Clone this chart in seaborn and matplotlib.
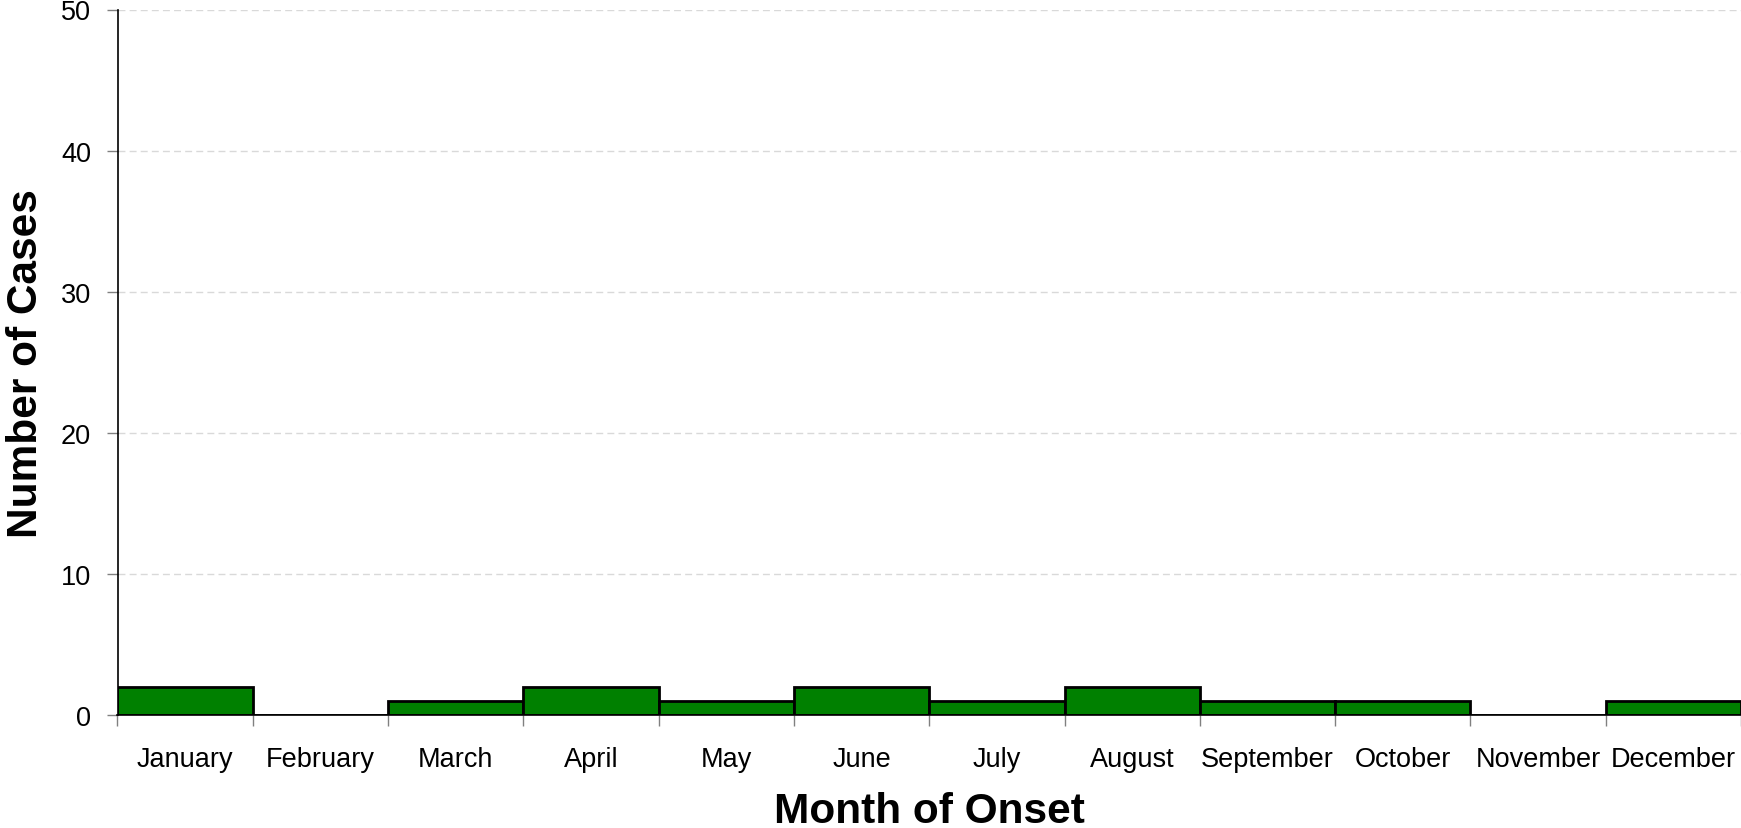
import numpy as np
import pandas as pd
import matplotlib
matplotlib.use("Agg")
import matplotlib.pyplot as plt
import seaborn as sns

months = ["January", "February", "March", "April", "May", "June",
          "July", "August", "September", "October", "November", "December"]
cases = [2, 0, 1, 2, 1, 2, 1, 2, 1, 1, 0, 1]

df = pd.DataFrame({"Month": months, "Cases": cases})

sns.set_style("white", {"xtick.bottom": True, "ytick.left": True,
                        "text.color": "black", "axes.labelcolor": "black",
                        "xtick.color": "black", "ytick.color": "black"})
plt.rcParams['font.family'] = ['Liberation Sans', 'DejaVu Sans']

fig = plt.figure(figsize=(17.41, 8.29), dpi=100)
ax = fig.add_axes([117.5 / 1741, 1 - 716 / 829, (1741 - 117.5) / 1741, (716 - 10.5) / 829])

sns.barplot(data=df, x="Month", y="Cases", order=months, color="#008000",
            width=1.0, edgecolor="black", linewidth=2, saturation=1, ax=ax)

ax.set_xlim(-0.5, 11.5)
ax.set_ylim(0, 50)
ax.set_yticks(range(0, 51, 10))
ax.yaxis.grid(True, linestyle=(0, (5, 3)), color="#d9d9d9", linewidth=1)
ax.set_axisbelow(True)

# month labels sit between the ticks
ax.set_xticks(range(12))
ax.set_xticklabels(months)
ax.set_xticks(np.arange(-0.5, 12, 1), minor=True)
ax.tick_params(axis="x", which="major", length=0, labelsize=19.5, labelcolor="black", pad=22)
ax.tick_params(axis="x", which="minor", length=8, width=1, color="#808080", direction="out")
ax.tick_params(axis="y", length=8, width=1, color="#808080", direction="out",
               labelsize=19.5, labelcolor="black", pad=11)

for s in ["top", "right"]:
    ax.spines[s].set_visible(False)
ax.spines["left"].set_color("black")
ax.spines["bottom"].set_color("black")
ax.spines["left"].set_linewidth(1.2)
ax.spines["bottom"].set_linewidth(1.2)

ax.set_xlabel("Month of Onset", fontsize=30.5, fontweight="bold", color="black", labelpad=14)
ax.set_ylabel("Number of Cases", fontsize=30.5, fontweight="bold", color="black", labelpad=11)

fig.savefig("out.png", dpi=100)
